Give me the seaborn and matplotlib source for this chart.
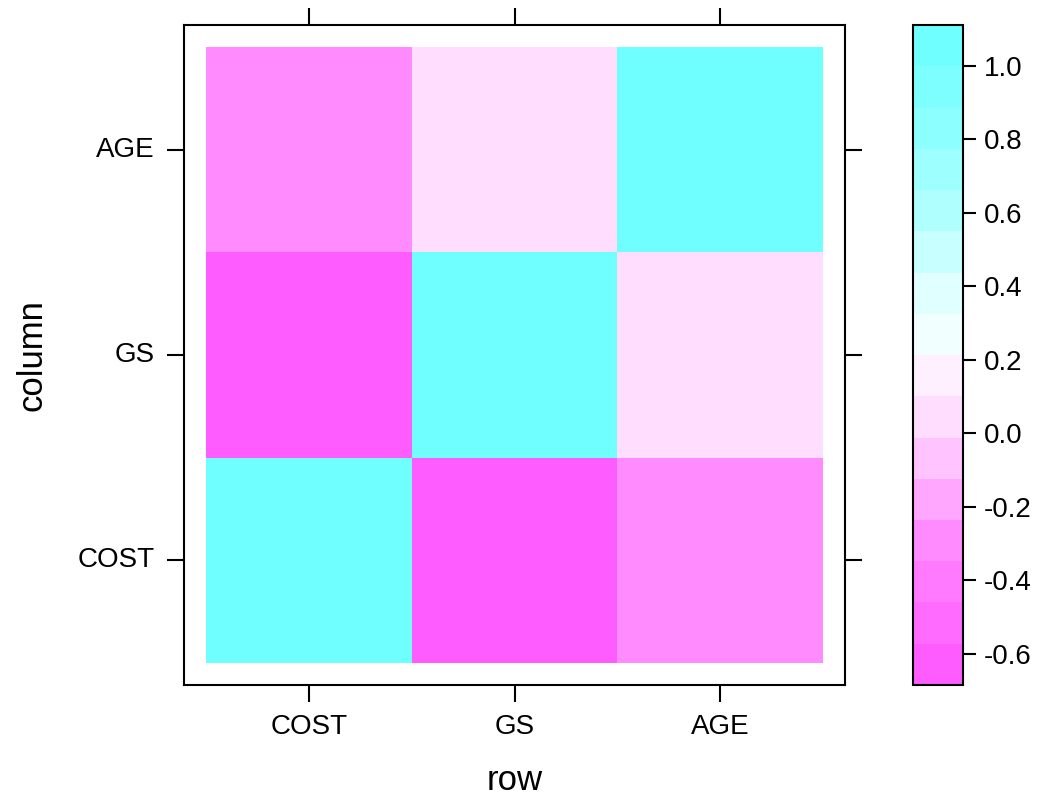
import numpy as np
import pandas as pd
import matplotlib
matplotlib.use('Agg')
import matplotlib.pyplot as plt
import seaborn as sns
from matplotlib.colors import ListedColormap

# variables and pairwise correlations
variables = ['COST', 'GS', 'AGE']
r_cost_gs = -0.575
r_cost_age = -0.30
r_gs_age = 0.05
cbar_ticks = [-0.6, -0.4, -0.2, 0.0, 0.2, 0.4, 0.6, 0.8, 1.0]

corr = pd.DataFrame(
    [[1.0, r_cost_gs, r_cost_age],
     [r_cost_gs, 1.0, r_gs_age],
     [r_cost_age, r_gs_age, 1.0]],
    index=variables, columns=variables)

# lattice-like magenta -> white -> cyan palette, 16 bands
band_colors = ['#FF5CFF', '#FF6BFF', '#FF7AFF', '#FF8BFF', '#FFA6FF', '#FFC4FF',
               '#FFDDFF', '#FFF0FF', '#F2FFFF', '#E0FFFF', '#C8FFFF', '#B0FFFF',
               '#9EFFFF', '#8CFFFF', '#7DFFFF', '#70FFFF']
cmap = ListedColormap(band_colors)

lo, hi = corr.values.min(), corr.values.max()
ext = 0.07 * (hi - lo)
vmin, vmax = lo - ext, hi + ext

sns.set_style('white')
plt.rcParams['font.family'] = ['Liberation Sans', 'DejaVu Sans']
plt.rcParams['text.color'] = 'black'
plt.rcParams['axes.labelcolor'] = 'black'
plt.rcParams['xtick.color'] = 'black'
plt.rcParams['ytick.color'] = 'black'

fig = plt.figure(figsize=(10.41, 8.02), dpi=100)
ax = fig.add_axes([0.1768, 0.1459, 0.635, 0.8229])
cax = fig.add_axes([0.877, 0.1459, 0.048, 0.8229])

# flip rows so COST sits at the bottom
plot_df = corr.iloc[::-1]
sns.heatmap(plot_df, ax=ax, cbar_ax=cax, cmap=cmap, vmin=vmin, vmax=vmax,
            linewidths=0)

pad = 0.107
ax.set_xlim(-pad, 3 + pad)
ax.set_ylim(3 + pad, -pad)
for s in ax.spines.values():
    s.set_visible(True)
    s.set_linewidth(1.5)
    s.set_color('black')
ax.tick_params(top=True, right=True, left=True, bottom=True,
               labeltop=False, labelright=False,
               direction='out', length=12, width=1.5, color='black',
               labelcolor='black', labelsize=20, pad=9)
plt.setp(ax.get_yticklabels(), rotation=0)
plt.setp(ax.get_xticklabels(), rotation=0)
ax.set_xlabel('row', fontsize=25, labelpad=17, color='black')
ax.set_ylabel('column', fontsize=25, labelpad=21, color='black')

cbar = ax.collections[0].colorbar
cbar.set_ticks(cbar_ticks, labels=[f'{t:.1f}' for t in cbar_ticks])
cbar.outline.set_visible(True)
cbar.outline.set_linewidth(1.5)
cbar.outline.set_edgecolor('black')
cax.tick_params(direction='out', length=9, width=1.5, labelsize=20, pad=6,
                color='black', labelcolor='black')

fig.savefig('out.png', dpi=100)
